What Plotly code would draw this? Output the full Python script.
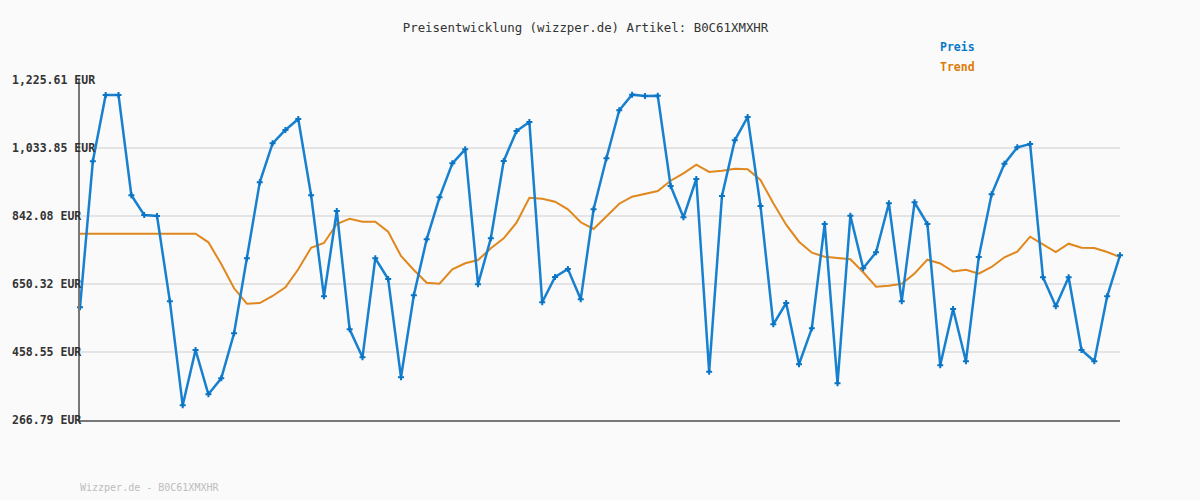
import plotly.graph_objects as go

# ---- data (EUR) ----
preis = [584.6, 996.4, 1183.3, 1183.3, 900.5, 844.9, 842.1, 601.5, 308.3, 464.2,
         339.3, 384.4, 511.3, 722.8, 937.1, 1047.1, 1084.6, 1115.6, 900.5, 615.6,
         856.2, 522.6, 443.6, 722.8, 664.4, 387.2, 618.5, 776.4, 894.8, 990.7,
         1030.2, 649.5, 779.2, 997.2, 1081.8, 1107.2, 598.7, 670.1, 692.6, 607.2,
         861.0, 1004.8, 1140.2, 1184.2, 1180.5, 1181.3, 926.7, 838.4, 946.4, 403.0,
         898.5, 1055.6, 1121.3, 870.3, 536.7, 596.7, 423.9, 525.4, 819.5, 370.3,
         842.9, 694.6, 739.7, 877.9, 601.5, 880.7, 819.5, 421.1, 579.8, 432.3,
         726.5, 903.3, 989.6, 1035.8, 1045.1, 669.2, 587.4, 669.2, 464.2, 432.3,
         615.6, 731.3]

trend = [792.2, 792.2, 792.2, 792.2, 792.2, 792.2, 792.2, 792.2, 792.2, 792.2,
         767.9, 706.7, 638.2, 594.8, 596.7, 616.5, 641.0, 691.8, 752.7, 766.0,
         819.5, 834.5, 826.0, 826.0, 797.8, 729.3, 689.8, 654.0, 651.2, 691.8,
         708.7, 718.0, 751.0, 779.2, 823.2, 893.7, 890.9, 882.4, 861.0, 824.3,
         805.4, 840.1, 876.8, 896.5, 904.1, 912.6, 941.6, 962.5, 986.8, 966.2,
         969.8, 975.5, 973.8, 943.6, 877.9, 817.6, 769.6, 738.6, 727.3, 724.5,
         720.0, 683.3, 642.7, 645.5, 651.2, 679.9, 718.9, 708.1, 685.6, 690.7,
         679.4, 698.3, 725.6, 741.4, 783.7, 762.3, 740.6, 764.0, 752.7, 751.9,
         740.6, 726.5]

x_idx = list(range(len(preis)))

y_ticks = [266.79, 458.55, 650.32, 842.08, 1033.85, 1225.61]
y_tick_labels = ["266.79 EUR", "458.55 EUR", "650.32 EUR", "842.08 EUR",
                 "1,033.85 EUR", "1,225.61 EUR"]

title_text = "Preisentwicklung (wizzper.de) Artikel: B0C61XMXHR"
footer_text = "Wizzper.de - B0C61XMXHR"
legend_names = ["Preis", "Trend"]

MONO = "DejaVu Sans Mono"
BG = "#fafafa"
PLOT_W, PLOT_H = 1040, 340

fig = go.Figure()
fig.add_trace(go.Scatter(
    x=x_idx, y=trend, mode="lines", name=legend_names[1],
    line=dict(color="#e0871d", width=2), cliponaxis=False,
))
fig.add_trace(go.Scatter(
    x=x_idx, y=preis, mode="lines+markers", name=legend_names[0],
    line=dict(color="#1780cf", width=2.5),
    marker=dict(symbol="cross", size=5, color="#0a74c4", line=dict(width=0)),
    cliponaxis=False,
))

annotations = []
for v, t in zip(y_ticks, y_tick_labels):
    annotations.append(dict(
        x=-70 / PLOT_W, xref="paper", y=v, yref="y", text=t, showarrow=False,
        xanchor="left", yanchor="middle",
        font=dict(family=MONO, size=11.5, color="#333333", weight="bold"),
    ))
annotations.append(dict(
    x=(938 - 80) / PLOT_W, xref="paper", y=(420 - 47) / PLOT_H, yref="paper",
    text=legend_names[0], showarrow=False, xanchor="left", yanchor="middle",
    font=dict(family=MONO, size=11.5, color="#0a78c8", weight="bold"),
))
annotations.append(dict(
    x=(938 - 80) / PLOT_W, xref="paper", y=(420 - 67) / PLOT_H, yref="paper",
    text=legend_names[1], showarrow=False, xanchor="left", yanchor="middle",
    font=dict(family=MONO, size=11.5, color="#dd7a08", weight="bold"),
))
annotations.append(dict(
    x=(78 - 80) / PLOT_W, xref="paper", y=(420 - 487) / PLOT_H, yref="paper",
    text=footer_text, showarrow=False, xanchor="left", yanchor="middle",
    font=dict(family=MONO, size=10, color="#bdbdbd"),
))

fig.update_layout(
    width=1200, height=500,
    margin=dict(l=80, r=80, t=80, b=80),
    paper_bgcolor=BG, plot_bgcolor=BG,
    showlegend=False,
    title=dict(text=title_text, x=585.5 / 1200, xanchor="center",
               y=1 - 28 / 500, yanchor="middle",
               font=dict(family=MONO, size=12.4, color="#333333")),
    xaxis=dict(range=[0, len(preis) - 1], showgrid=False, zeroline=False,
               showticklabels=False, ticks="", showline=True,
               linecolor="#777777", linewidth=2),
    yaxis=dict(range=[y_ticks[0], y_ticks[-1]], tickvals=y_ticks,
               showticklabels=False, ticks="", showgrid=True,
               gridcolor="#e4e4e4", gridwidth=2, zeroline=False,
               showline=True, linecolor="#777777", linewidth=2),
    annotations=annotations,
)

fig.write_html("out.html")
